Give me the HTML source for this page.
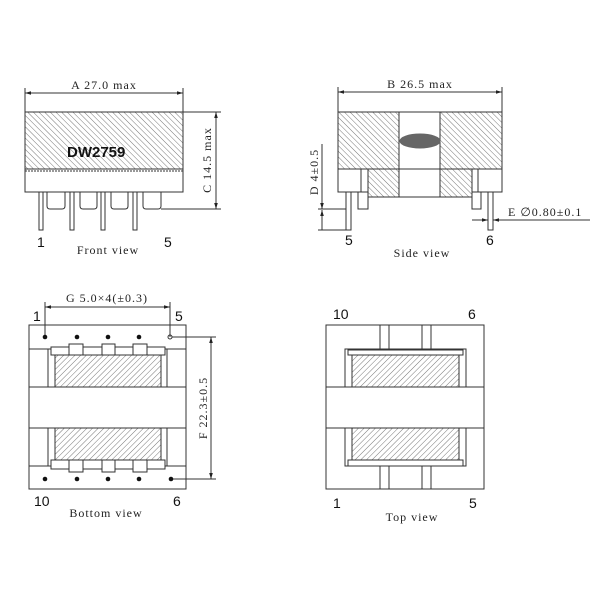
<!DOCTYPE html>
<html><head><meta charset="utf-8"><style>
html,body{margin:0;padding:0;background:#fff;width:600px;height:600px;overflow:hidden}
svg{display:block}
.d{font-family:"Liberation Serif",serif;font-size:12px;fill:#222;letter-spacing:1px}
.n{font-family:"Liberation Sans",sans-serif;font-size:14px;fill:#111}
</style></head><body>
<svg width="600" height="600" viewBox="0 0 600 600" xmlns="http://www.w3.org/2000/svg">
<defs>
<pattern id="hb" width="4" height="4" patternUnits="userSpaceOnUse" patternTransform="rotate(45)"><line x1="0" y1="0" x2="0" y2="4" stroke="#555" stroke-width="0.8"/></pattern>
<pattern id="hf" width="4" height="4" patternUnits="userSpaceOnUse" patternTransform="rotate(-45)"><line x1="0" y1="0" x2="0" y2="4" stroke="#555" stroke-width="0.8"/></pattern>
<marker id="ar" viewBox="0 0 10 10" refX="10" refY="5" markerWidth="6" markerHeight="6" orient="auto-start-reverse"><path d="M0,2 L10,5 L0,8 z" fill="#222"/></marker>
</defs>
<g fill="none" stroke="#333" stroke-width="1">
<!-- FRONT VIEW -->
<line x1="25" y1="93" x2="183" y2="93" marker-start="url(#ar)" marker-end="url(#ar)"/>
<line x1="25" y1="88" x2="25" y2="112"/><line x1="183" y1="88" x2="183" y2="112"/>
<rect x="25" y="112" width="158" height="57" fill="url(#hf)"/>
<rect x="25" y="169" width="158" height="23" fill="#fff"/>
<line x1="25" y1="171" x2="183" y2="171" stroke-dasharray="2,1"/>
<rect x="39" y="192" width="4" height="38"/><rect x="70" y="192" width="4" height="38"/>
<rect x="101" y="192" width="4" height="38"/><rect x="133" y="192" width="4" height="38"/>
<path d="M47,192 V206 q0,3 3,3 H62 q3,0 3,-3 V192"/>
<path d="M80,192 V206 q0,3 3,3 H94 q3,0 3,-3 V192"/>
<path d="M111,192 V206 q0,3 3,3 H125 q3,0 3,-3 V192"/>
<path d="M143,192 V206 q0,3 3,3 H158 q3,0 3,-3 V192"/>
<line x1="183" y1="112" x2="221" y2="112"/><line x1="161" y1="209" x2="221" y2="209"/>
<line x1="216" y1="112" x2="216" y2="209" marker-start="url(#ar)" marker-end="url(#ar)"/>
<!-- SIDE VIEW -->
<line x1="338" y1="92" x2="502" y2="92" marker-start="url(#ar)" marker-end="url(#ar)"/>
<line x1="338" y1="87" x2="338" y2="112"/><line x1="502" y1="87" x2="502" y2="112"/>
<rect x="338" y="112" width="61" height="57" fill="url(#hf)"/>
<rect x="440" y="112" width="62" height="57" fill="url(#hf)"/>
<rect x="399" y="112" width="41" height="57" fill="#fff"/>
<ellipse cx="420" cy="141" rx="20" ry="7" fill="#666" stroke="#666"/>
<rect x="338" y="169" width="23" height="23" fill="#fff"/>
<rect x="478" y="169" width="24" height="23" fill="#fff"/>
<rect x="368" y="169" width="31" height="28" fill="url(#hf)"/>
<rect x="440" y="169" width="32" height="28" fill="url(#hf)"/>
<rect x="399" y="169" width="41" height="28" fill="#fff"/>
<rect x="358" y="192" width="10" height="17"/><rect x="472" y="192" width="9" height="17"/>
<rect x="346" y="192" width="5" height="38"/><rect x="488" y="192" width="5" height="38"/>
<line x1="318" y1="209" x2="346" y2="209"/><line x1="318" y1="230" x2="346" y2="230"/>
<line x1="322" y1="144" x2="322" y2="209" marker-end="url(#ar)"/>
<line x1="322" y1="230" x2="322" y2="210" marker-end="url(#ar)"/>
<line x1="472" y1="220" x2="488" y2="220" marker-end="url(#ar)"/>
<line x1="590" y1="220" x2="493" y2="220" marker-end="url(#ar)"/>
<!-- BOTTOM VIEW -->
<rect x="29" y="325" width="157" height="164" fill="#fff"/>
<line x1="29" y1="349" x2="186" y2="349"/><line x1="29" y1="387" x2="186" y2="387"/>
<line x1="29" y1="428" x2="186" y2="428"/><line x1="29" y1="466" x2="186" y2="466"/>
<line x1="48" y1="349" x2="48" y2="387"/><line x1="167" y1="349" x2="167" y2="387"/>
<line x1="48" y1="428" x2="48" y2="466"/><line x1="167" y1="428" x2="167" y2="466"/>
<rect x="55" y="355" width="106" height="32" fill="url(#hb)"/>
<rect x="55" y="428" width="106" height="32" fill="url(#hb)"/>
<rect x="51" y="347" width="114" height="8" fill="#fff"/>
<rect x="51" y="460" width="114" height="9" fill="#fff"/>
<rect x="69" y="344" width="14" height="11" fill="#fff"/><rect x="102" y="344" width="13" height="11" fill="#fff"/><rect x="133" y="344" width="14" height="11" fill="#fff"/>
<rect x="69" y="460" width="14" height="12" fill="#fff"/><rect x="102" y="460" width="13" height="12" fill="#fff"/><rect x="133" y="460" width="14" height="12" fill="#fff"/>
<line x1="45" y1="302" x2="45" y2="337"/><line x1="170" y1="302" x2="170" y2="337"/>
<line x1="45" y1="307" x2="170" y2="307" marker-start="url(#ar)" marker-end="url(#ar)"/>
<circle cx="170" cy="337" r="2"/>
<line x1="172" y1="337" x2="216" y2="337"/><line x1="172" y1="479" x2="216" y2="479"/>
<line x1="211" y1="337" x2="211" y2="479" marker-start="url(#ar)" marker-end="url(#ar)"/>
<!-- TOP VIEW -->
<rect x="326" y="325" width="158" height="164" fill="#fff"/>
<line x1="326" y1="387" x2="484" y2="387"/><line x1="326" y1="428" x2="484" y2="428"/>
<path d="M345,387 V349 H466 V387 M345,428 V466 H466 V428"/>
<rect x="348" y="350" width="115" height="5" fill="#fff"/>
<rect x="348" y="460" width="115" height="6" fill="#fff"/>
<rect x="352" y="355" width="107" height="32" fill="url(#hb)"/>
<rect x="352" y="428" width="107" height="32" fill="url(#hb)"/>
<path d="M380,325 V349 M389,325 V349 M422,325 V349 M431,325 V349 M380,466 V489 M389,466 V489 M422,466 V489 M431,466 V489"/>
</g>
<g fill="#111">
<circle cx="45" cy="337" r="2.3"/><circle cx="77" cy="337" r="2.3"/><circle cx="108" cy="337" r="2.3"/><circle cx="139" cy="337" r="2.3"/>
<circle cx="45" cy="479" r="2.3"/><circle cx="77" cy="479" r="2.3"/><circle cx="108" cy="479" r="2.3"/><circle cx="139" cy="479" r="2.3"/><circle cx="171" cy="479" r="2.3"/>
</g>
<text x="104" y="89" class="d" text-anchor="middle">A 27.0 max</text>
<text x="67" y="157" font-family="Liberation Sans,sans-serif" font-weight="bold" font-size="15" fill="#111">DW2759</text>
<text transform="translate(211,160) rotate(-90)" class="d" text-anchor="middle">C 14.5 max</text>
<text x="37" y="247" class="n">1</text><text x="164" y="247" class="n">5</text>
<text x="108" y="254" class="d" text-anchor="middle">Front view</text>
<text x="420" y="88" class="d" text-anchor="middle">B 26.5 max</text>
<text transform="translate(318,172) rotate(-90)" class="d" text-anchor="middle">D 4±0.5</text>
<text x="508" y="216" class="d">E ∅0.80±0.1</text>
<text x="345" y="245" class="n">5</text><text x="486" y="245" class="n">6</text>
<text x="422" y="257" class="d" text-anchor="middle">Side view</text>
<text x="107" y="302" class="d" text-anchor="middle">G 5.0×4(±0.3)</text>
<text x="33" y="321" class="n">1</text><text x="175" y="321" class="n">5</text>
<text transform="translate(207,408) rotate(-90)" class="d" text-anchor="middle">F 22.3±0.5</text>
<text x="34" y="506" class="n">10</text><text x="173" y="506" class="n">6</text>
<text x="106" y="517" class="d" text-anchor="middle">Bottom view</text>
<text x="333" y="319" class="n">10</text><text x="468" y="319" class="n">6</text>
<text x="333" y="508" class="n">1</text><text x="469" y="508" class="n">5</text>
<text x="412" y="521" class="d" text-anchor="middle">Top view</text>
</svg>
</body></html>
